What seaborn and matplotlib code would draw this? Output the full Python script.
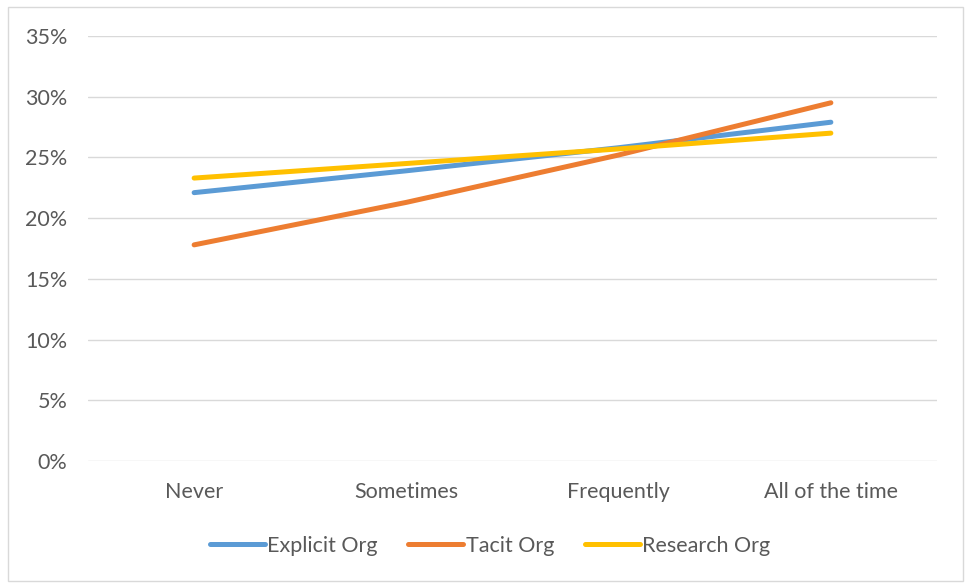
import matplotlib
matplotlib.use("Agg")
import matplotlib.pyplot as plt
import seaborn as sns
import pandas as pd
from matplotlib.ticker import PercentFormatter, FixedLocator
from matplotlib.lines import Line2D

# Share of responses by frequency for each organisation type
categories = ["Never", "Sometimes", "Frequently", "All of the time"]
explicit_org = [0.221, 0.239, 0.258, 0.279]
tacit_org = [0.178, 0.213, 0.252, 0.295]
research_org = [0.233, 0.245, 0.257, 0.270]
series_names = ["Explicit Org", "Tacit Org", "Research Org"]
y_ticks = [0.0, 0.05, 0.10, 0.15, 0.20, 0.25, 0.30, 0.35]

colors = ["#5B9BD5", "#ED7D31", "#FFC000"]

rows = []
for name, vals in zip(series_names, [explicit_org, tacit_org, research_org]):
    for i, (cat, v) in enumerate(zip(categories, vals)):
        rows.append({"pos": i, "category": cat, "value": v, "series": name})
df = pd.DataFrame(rows)

sns.set_theme(style="white")
plt.rcParams["font.family"] = ["Lato", "DejaVu Sans"]

FS = 15.5

fig = plt.figure(figsize=(9.65, 5.83), dpi=100)
ax = fig.add_axes([88 / 965, 1 - 461 / 583, (937 - 88) / 965, (461 - 36) / 583])

sns.lineplot(data=df, x="pos", y="value", hue="series", palette=colors,
             linewidth=3.6, ax=ax, legend=False, sort=False,
             solid_capstyle="round")

ax.set_xlim(-0.5, 3.5)
ax.set_ylim(0, 0.35)
ax.yaxis.set_major_locator(FixedLocator(y_ticks))
ax.yaxis.set_major_formatter(PercentFormatter(1.0, decimals=0))
ax.set_xticks(range(len(categories)))
ax.set_xticklabels(categories)
ax.set_xlabel("")
ax.set_ylabel("")
ax.grid(axis="y", color="#D9D9D9", linewidth=1.0)
ax.set_axisbelow(True)
for s in ax.spines.values():
    s.set_visible(False)
ax.tick_params(axis="both", length=0, labelsize=FS, labelcolor="#595959")
ax.tick_params(axis="y", pad=15)
ax.tick_params(axis="x", pad=15)

# Legend below the plot area
handles = [Line2D([0], [0], color=c, linewidth=3.6, solid_capstyle="round")
           for c in colors]
leg = fig.legend(handles, series_names, loc="center", ncol=3,
                 bbox_to_anchor=(490 / 965, 1 - 546 / 583), frameon=False,
                 fontsize=FS, handlelength=2.55, handletextpad=0.1,
                 columnspacing=1.45)
for t in leg.get_texts():
    t.set_color("#595959")

# Outer chart border
fig.patches.append(plt.Rectangle((8 / 965, 2 / 583), 955 / 965, 574 / 583,
                                 transform=fig.transFigure, fill=False,
                                 edgecolor="#D9D9D9", linewidth=1.0))

fig.savefig("out.png", dpi=100, facecolor="white")
